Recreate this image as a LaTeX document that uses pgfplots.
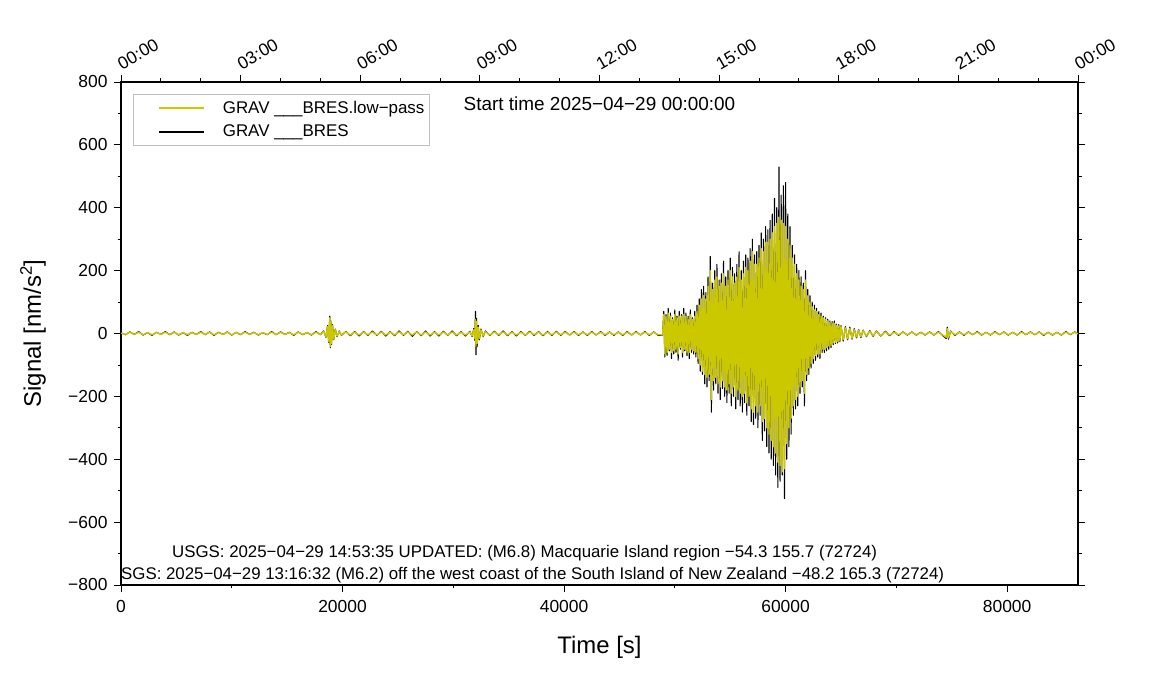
\documentclass[border=0pt]{standalone}
\usepackage{fontspec}
\setmainfont{Liberation Sans}
\usepackage{pgfplots}
\usepackage{pgfplotstable}
\pgfplotsset{compat=1.18}
\definecolor{lpyellow}{RGB}{204,200,0}

% time [s], raw signal, low-pass signal [nm/s^2]
\pgfplotstableread{
t raw lp
0 2 1
400 -4 -3
800 5 4
1200 -3 -3
1600 6 4
2000 -5 -4
2400 3 3
2800 -6 -4
3200 4 3
3600 -3 -3
4000 6 4
4400 -4 -3
4800 5 4
5200 -5 -4
5600 3 3
6000 -6 -4
6400 4 3
6800 -3 -3
7200 6 4
7600 -4 -3
8000 5 4
8400 -6 -4
8800 4 3
9200 -3 -3
9600 5 4
10000 -5 -4
10400 4 3
10800 -4 -3
11200 6 4
11600 -3 -3
12000 4 3
12400 -5 -4
12800 3 3
13200 -4 -3
13600 6 4
14000 -4 -3
14400 5 4
14800 -3 -3
15200 4 3
15600 -6 -4
16000 5 4
16400 -4 -3
16800 3 3
17200 -5 -4
17600 6 4
18000 -4 -3
18300 8 6
18500 -12 -10
18650 25 22
18750 -28 -25
18850 55 50
18900 -45 -42
18950 40 38
19000 -35 -32
19100 28 25
19200 -20 -18
19350 14 12
19500 -10 -8
19700 8 6
19900 -6 -5
20300 6 5
20700 -7 -5
21100 6 4
21500 -8 -5
21900 6 5
22300 -6 -4
22700 8 5
23100 -6 -5
23500 7 5
23900 -8 -5
24300 6 5
24700 -7 -5
25100 8 5
25500 -6 -4
25900 7 5
26300 -9 -5
26700 6 5
27100 -7 -5
27500 8 5
27900 -8 -5
28300 6 4
28700 -8 -5
29100 7 5
29500 -6 -5
29900 8 5
30300 -7 -5
30700 6 4
31100 -8 -5
31500 7 5
31700 -10 -8
31850 16 12
31950 -22 -16
32000 70 45
32050 -68 -40
32100 48 38
32150 -42 -32
32250 26 20
32350 -20 -16
32500 14 11
32700 -10 -8
32900 8 6
33300 -6 -5
33700 7 5
34100 -6 -4
34500 8 5
34900 -7 -5
35300 6 4
35700 -8 -5
36100 6 4
36500 -6 -5
36900 7 5
37300 -6 -4
37700 6 5
38100 -7 -5
38500 6 4
38900 -6 -4
39300 7 5
39700 -6 -4
40100 6 4
40500 -5 -4
40900 6 4
41300 -6 -4
41700 5 4
42100 -6 -4
42500 6 4
42900 -5 -4
43300 6 4
43700 -6 -4
44100 5 4
44500 -6 -4
44900 5 4
45300 -6 -4
45700 6 4
46100 -5 -4
46500 6 4
46900 -5 -4
47300 6 4
47700 -6 -4
48100 5 4
48500 -6 -4
48900 -5 -4
49000 70 60
49100 -75 -65
49200 60 55
49300 -70 -60
49400 80 65
49500 -55 -50
49600 65 55
49700 -80 -60
49800 50 45
49900 -65 -55
50000 75 60
50100 -60 -50
50200 55 50
50300 -85 -65
50400 70 55
50500 -50 -45
50600 60 55
50700 -75 -60
50800 80 60
50900 -55 -50
51000 65 55
51100 -70 -60
51200 55 45
51300 -80 -60
51400 75 60
51500 -60 -50
51600 50 45
51700 -65 -55
51800 70 55
51900 -75 -60
52000 90 70
52100 -95 -80
52200 110 90
52300 -120 -100
52400 140 110
52500 -130 -120
52600 150 120
52700 -160 -130
52800 130 110
52900 -170 -140
53000 180 150
53100 -150 -130
53200 245 200
53300 -250 -210
53400 160 140
53500 -180 -150
53600 200 170
53700 -160 -140
53800 220 180
53900 -190 -160
54000 170 150
54100 -210 -170
54200 190 160
54300 -175 -150
54400 230 190
54500 -200 -170
54600 180 150
54700 -220 -180
54800 200 170
54900 -190 -160
55000 240 200
55100 -230 -190
55200 210 180
55300 -200 -170
55400 190 160
55500 -240 -200
55600 220 180
55700 -210 -180
55800 260 210
55900 -230 -190
56000 200 170
56100 -250 -200
56200 230 190
56300 -220 -190
56400 250 210
56500 -260 -220
56600 240 200
56700 -230 -200
56800 270 230
56900 -280 -240
57000 300 260
57100 -290 -250
57200 250 220
57300 -270 -230
57400 260 220
57500 -300 -250
57600 280 240
57700 -260 -230
57800 320 270
57900 -340 -280
58000 300 260
58100 -310 -270
58200 340 290
58300 -360 -300
58400 330 290
58500 -380 -320
58600 360 300
58700 -400 -340
58800 380 320
58900 -420 -360
59000 430 340
59100 -450 -380
59200 400 350
59300 -490 -410
59400 530 370
59500 -470 -420
59600 440 360
59700 -450 -440
59800 470 350
59900 -525 -430
60000 480 340
60100 -400 -350
60200 380 300
60300 -360 -300
60400 340 280
60500 -320 -270
60600 280 240
60700 -260 -230
60800 250 220
60900 -240 -210
61000 220 190
61100 -230 -200
61200 200 170
61300 -190 -170
61400 180 150
61500 -170 -150
61600 160 140
61700 -230 -190
61800 200 170
61900 -150 -130
62000 140 120
62100 -130 -110
62200 120 100
62300 -110 -95
62400 100 85
62500 -95 -80
62600 90 75
62700 -85 -70
62800 80 70
62900 -75 -65
63000 70 60
63100 -80 -65
63200 65 55
63300 -60 -50
63400 55 50
63500 -60 -50
63600 50 45
63700 -55 -45
63800 45 40
63900 -50 -40
64000 40 35
64100 -45 -38
64200 38 32
64300 -35 -30
64400 40 32
64500 -32 -28
64600 30 26
64700 -30 -25
64800 28 24
64900 -26 -22
65000 25 22
65200 -24 -20
65400 22 18
65600 -20 -17
65800 20 16
66000 -18 -15
66200 15 12
66400 -14 -11
66600 12 10
66800 -13 -10
67000 11 9
67300 -10 -8
67600 9 7
67900 -9 -7
68200 8 6
68600 -8 -6
69000 7 5
69400 -7 -5
69800 6 4
70200 -6 -4
70600 5 4
71000 -5 -4
71400 5 4
71800 -5 -4
72200 4 3
72600 -5 -4
73000 5 4
73400 -5 -4
73800 6 4
74200 -7 -5
74500 -16 -12
74600 20 15
74700 -18 -14
74900 8 6
75300 -6 -4
75700 5 4
76100 -6 -4
76500 5 4
76900 -4 -3
77300 6 4
77700 -5 -4
78100 4 3
78500 -5 -4
78900 6 4
79300 -4 -3
79700 5 4
80100 -5 -4
80500 4 3
80900 -5 -4
81300 6 4
81700 -4 -3
82100 5 4
82500 -4 -3
82900 5 4
83300 -6 -4
83700 4 3
84100 -5 -4
84500 4 3
84900 -5 -4
85300 6 4
85700 -4 -3
86100 5 4
86400 -2 -1
}\grav

\begin{document}
\begin{tikzpicture}[x=1bp,y=1bp]
\useasboundingbox (0,0) rectangle (1151,700);
\begin{axis}[
  at={(121bp,115bp)}, anchor=south west,
  scale only axis, width=957bp, height=503bp,
  xmin=0, xmax=86400, ymin=-800, ymax=800,
  axis line style={line width=1.2bp},
  tick align=outside,
  major tick length=7bp, minor tick length=3.5bp,
  every tick/.style={line width=0.8bp, black},
  scaled x ticks=false,
  xtick={0,20000,40000,60000,80000},
  xticklabels={0,20000,40000,60000,80000},
  minor xtick={10000,30000,50000,70000},
  xtick pos=bottom,
  ytick={-800,-600,...,800},
  yticklabels={−800,−600,−400,−200,0,200,400,600,800},
  minor ytick={-700,-500,...,700},
  ytick pos=both, yticklabel pos=left,
  ticklabel style={font=\fontsize{17.5}{20}\selectfont},
  xticklabel style={yshift=-5bp},
  yticklabel style={xshift=-3bp},
  xlabel={Time [s]},
  ylabel={Signal [nm/s\textsuperscript{2}]},
  label style={font=\fontsize{24}{28}\selectfont},
  xlabel style={at={(axis description cs:0.5,-0.123)}, anchor=center},
  ylabel style={at={(axis description cs:-0.092,0.5)}, anchor=center},
  legend style={at={(rel axis cs:0.0125,0.976)}, anchor=north west,
    draw=gray!50, line width=0.6bp, font=\fontsize{17}{20}\selectfont,
    row sep=6bp, inner ysep=5bp},
  legend cell align=left,
  legend image code/.code={\path (0bp,0bp) (84bp,0bp); \draw[#1, line width=2.2bp] (22bp,0bp) -- (67bp,0bp);},
]
\addlegendimage{lpyellow}
\addlegendentry{GRAV \_\_\_BRES.low−pass}
\addlegendimage{black}
\addlegendentry{GRAV \_\_\_BRES}

\addplot[black, line width=1.1bp, line join=round, forget plot] table[x=t, y=raw] {\grav};
\addplot[lpyellow, line width=1.4bp, line join=round, forget plot] table[x=t, y=lp] {\grav};

\node[font=\fontsize{19}{22}\selectfont] at (rel axis cs:0.5,0.956) {Start time 2025−04−29 00:00:00};
\node[anchor=west, inner sep=0pt, font=\fontsize{16.9}{19}\selectfont] at (rel axis cs:0.0533,0.0636)
  {USGS: 2025−04−29 14:53:35 UPDATED: (M6.8) Macquarie Island region −54.3 155.7 (72724)};
\node[anchor=west, inner sep=0pt, font=\fontsize{16.9}{19}\selectfont] at (rel axis cs:0,0.0199)
  {SGS: 2025−04−29 13:16:32 (M6.2) off the west coast of the South Island of New Zealand −48.2 165.3 (72724)};
\end{axis}

\begin{axis}[
  at={(121bp,115bp)}, anchor=south west,
  scale only axis, width=957bp, height=503bp,
  xmin=0, xmax=24, ymin=0, ymax=1,
  axis line style={line width=1.2bp},
  hide y axis,
  tick align=outside,
  major tick length=7bp, minor tick length=3.5bp,
  every tick/.style={line width=0.8bp, black},
  xtick pos=top, xticklabel pos=top,
  xtick={0,3,...,24},
  xticklabels={00:00,03:00,06:00,09:00,12:00,15:00,18:00,21:00,00:00},
  minor xtick={1,2,4,5,7,8,10,11,13,14,16,17,19,20,22,23},
  xticklabel style={rotate=30, anchor=south west, font=\fontsize{17.5}{20}\selectfont},
]
\end{axis}
\end{tikzpicture}
\end{document}
